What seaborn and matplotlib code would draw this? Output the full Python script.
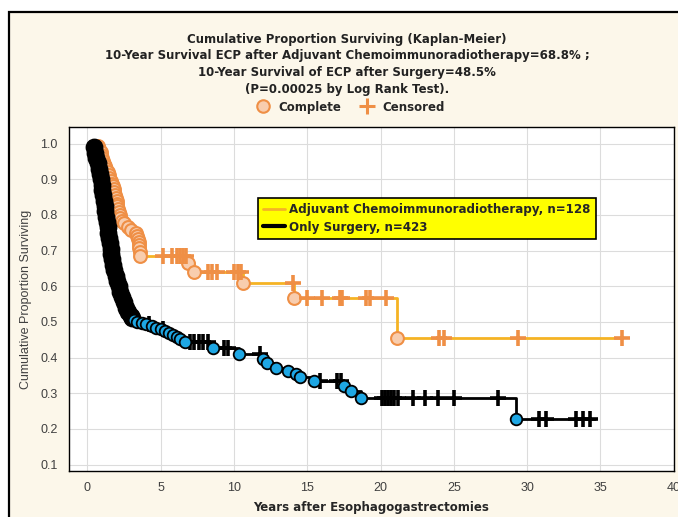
import numpy as np
import pandas as pd
import seaborn as sns
import matplotlib.pyplot as plt
from matplotlib.lines import Line2D
from matplotlib.patches import Rectangle

# Adjuvant chemoimmunoradiotherapy (n=128): event times and survival after each event
adj_t = [0.7, 0.8, 0.9, 0.95, 1.0, 1.1, 1.15, 1.2, 1.3, 1.4, 1.45, 1.5, 1.6, 1.7, 1.75,
         1.8, 1.85, 1.9, 1.95, 2.0, 2.02, 2.05, 2.1, 2.15, 2.2, 2.25, 2.35, 2.5, 2.8,
         2.95, 3.3, 3.4, 3.45, 3.5, 3.52, 3.55, 3.58, 3.6, 6.85, 7.3, 10.65, 14.1, 21.1]
adj_s = [0.992, 0.984, 0.976, 0.968, 0.96, 0.952, 0.944, 0.936, 0.928, 0.92, 0.912,
         0.904, 0.896, 0.888, 0.88, 0.872, 0.864, 0.856, 0.848, 0.84, 0.832, 0.824,
         0.816, 0.808, 0.80, 0.792, 0.784, 0.776, 0.766, 0.758, 0.75, 0.742, 0.733,
         0.724, 0.715, 0.706, 0.697, 0.686, 0.666, 0.641, 0.609, 0.568, 0.454]
adj_cens = [5.15, 5.8, 6.1, 6.3, 6.5, 6.7, 8.2, 8.5, 8.85, 10.0, 10.3, 10.5, 14.0,
            15.0, 16.0, 17.2, 17.4, 19.0, 19.3, 20.35, 24.0, 24.3, 29.4, 36.5]
adj_start, adj_end = 0.5, 36.5

# Only surgery (n=423): dense early events, later events, censored times
surg_early_t = [0.45, 0.55, 0.62, 0.7, 0.78, 0.85, 0.9, 0.97, 1.03, 1.08, 1.13, 1.18,
                1.23, 1.28, 1.33, 1.38, 1.43, 1.48, 1.53, 1.58, 1.64, 1.7, 1.77, 1.85,
                1.95, 2.05, 2.15, 2.25, 2.38, 2.5, 2.65, 2.8, 2.95, 3.05]
surg_early_s = [0.99, 0.975, 0.96, 0.945, 0.93, 0.915, 0.90, 0.885, 0.87, 0.855, 0.84,
                0.825, 0.81, 0.795, 0.78, 0.765, 0.75, 0.735, 0.72, 0.705, 0.69, 0.675,
                0.66, 0.645, 0.63, 0.615, 0.60, 0.585, 0.57, 0.555, 0.54, 0.527, 0.516,
                0.51]
surg_t = [3.2, 3.4, 3.7, 4.0, 4.4, 4.7, 5.0, 5.3, 5.6, 5.85, 6.1, 6.3, 6.65, 8.6, 10.35,
          12.0, 12.25, 12.9, 13.7, 14.2, 14.5, 15.45, 17.5, 17.97, 18.65, 29.25]
surg_s = [0.505, 0.501, 0.497, 0.494, 0.489, 0.484, 0.479, 0.474, 0.469, 0.463, 0.457,
          0.451, 0.445, 0.428, 0.41, 0.397, 0.384, 0.372, 0.363, 0.354, 0.345, 0.333,
          0.321, 0.306, 0.288, 0.228]
surg_cens = [4.2, 5.15, 7.0, 7.3, 7.6, 7.9, 8.2, 9.3, 9.6, 11.8, 15.9, 17.0, 17.3,
             20.1, 20.3, 20.5, 20.7, 20.9, 21.2, 22.2, 23.0, 23.9, 25.0, 28.0,
             30.8, 31.3, 33.3, 33.8, 34.3]
surg_start, surg_end = 0.4, 34.6

ORANGE_LINE = '#f5b324'
ORANGE = '#ef8f45'
PEACH = '#f8cdae'
BLUE = '#1ea7e4'
CREAM = '#fcf7ea'
BOLD = {'family': 'DejaVu Sans', 'weight': 'bold', 'size': 8.5}


def km_line(start, times, surv, end):
    t = [start] + list(times) + [end]
    s = [1.0] + list(surv) + [surv[-1]]
    return pd.DataFrame({'t': t, 's': s})


def km_at(times, surv, when):
    idx = np.searchsorted(times, when, side='right') - 1
    return [surv[i] if i >= 0 else 1.0 for i in idx]


sns.set_style('white')
plt.rcParams['font.family'] = ['Liberation Sans', 'DejaVu Sans']

fig = plt.figure(figsize=(6.78, 5.17), dpi=100, facecolor='white')
fig.patches.append(Rectangle((9 / 678, -0.05), 1.0, 1.05 - 12 / 517, transform=fig.transFigure,
                             facecolor=CREAM, edgecolor='black', lw=1.6, zorder=-10))
ax = fig.add_axes([0.1018, 0.089, 0.892, 0.665])
ax.set_facecolor('white')

# adjuvant curve
adj_df = km_line(adj_start, adj_t, adj_s, adj_end)
sns.lineplot(data=adj_df, x='t', y='s', drawstyle='steps-post', color=ORANGE_LINE, lw=2,
             estimator=None, sort=False, legend=False, ax=ax, zorder=2)
sns.scatterplot(x=adj_t, y=adj_s, marker='o', s=85, color=PEACH, edgecolor=ORANGE,
                linewidth=1.5, ax=ax, zorder=3)
sns.scatterplot(x=adj_cens, y=km_at(adj_t, adj_s, adj_cens), marker='+', s=120,
                color=ORANGE, linewidth=2.6, ax=ax, zorder=3)

# surgery curve
all_t = surg_early_t + surg_t
all_s = surg_early_s + surg_s
surg_df = km_line(surg_start, all_t, all_s, surg_end)
sns.lineplot(data=surg_df, x='t', y='s', drawstyle='steps-post', color='black', lw=2,
             estimator=None, sort=False, legend=False, ax=ax, zorder=4)
sns.scatterplot(x=surg_early_t, y=surg_early_s, marker='o', s=140, color='black',
                edgecolor='black', linewidth=1, ax=ax, zorder=5)
sns.scatterplot(x=surg_cens, y=km_at(all_t, all_s, surg_cens), marker='+', s=120,
                color='black', linewidth=2.6, ax=ax, zorder=5)
sns.scatterplot(x=surg_t, y=surg_s, marker='o', s=70, color=BLUE, edgecolor='black',
                linewidth=1.3, ax=ax, zorder=6)

ax.set_xlim(-1.25, 40)
ax.set_ylim(0.082, 1.046)
ax.set_xticks(np.arange(0, 41, 5))
ax.set_yticks(np.round(np.arange(0.1, 1.01, 0.1), 1))
ax.set_yticklabels([f'{v:.1f}' for v in np.arange(0.1, 1.01, 0.1)])
ax.grid(True, color='#dcdcdc', lw=0.8)
ax.set_axisbelow(True)
for sp in ax.spines.values():
    sp.set_color('black')
    sp.set_linewidth(1)
ax.tick_params(axis='both', direction='out', length=3, width=0.8, colors='black',
               labelcolor='#404040', labelsize=9, pad=5)
ax.set_xlabel('Years after Esophagogastrectomies', fontdict=BOLD, labelpad=5)
ax.set_ylabel('Cumulative Proportion Surviving', fontsize=9, color='#404040', labelpad=6)

leg = ax.legend(handles=[Line2D([], [], color=ORANGE_LINE, lw=2),
                         Line2D([], [], color='black', lw=3)],
                labels=['Adjuvant Chemoimmunoradiotherapy, n=128', 'Only Surgery, n=423'],
                loc='upper left', bbox_to_anchor=(0.312, 0.794), facecolor='#ffff00',
                edgecolor='black', framealpha=1, fancybox=False,
                prop={**BOLD, 'size': 8.6}, handlelength=1.8,
                handletextpad=0.4, borderpad=0.45, labelspacing=0.35, borderaxespad=0)
leg.get_frame().set_linewidth(1.2)

title_lines = ['Cumulative Proportion Surviving (Kaplan-Meier)',
               '10-Year Survival ECP after Adjuvant Chemoimmunoradiotherapy=68.8% ;',
               '10-Year Survival of ECP after Surgery=48.5%',
               '(P=0.00025 by Log Rank Test).']
for i, line in enumerate(title_lines):
    fig.text(347 / 678, 1 - (39 + i * 17) / 517, line, ha='center', va='center',
             fontdict=BOLD, color='#222222')

fig.legend(handles=[Line2D([], [], marker='o', ls='none', ms=9, mfc=PEACH, mec=ORANGE, mew=1.5),
                    Line2D([], [], marker='+', ls='none', ms=11, color=ORANGE, mew=2.2)],
           labels=['Complete', 'Censored'], loc='center', ncol=2, frameon=False,
           bbox_to_anchor=(348 / 678, 1 - 107 / 517), prop=BOLD,
           handletextpad=0.3, columnspacing=1.2)

fig.savefig('out.png', dpi=100, facecolor=fig.get_facecolor())
